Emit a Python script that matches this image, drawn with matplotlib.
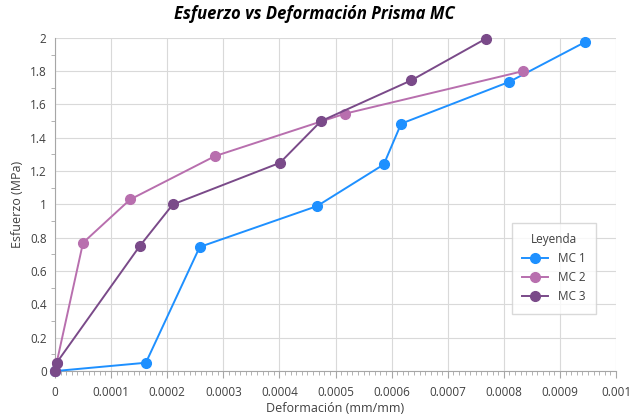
import numpy as np
import matplotlib.pyplot as plt
from matplotlib.ticker import MultipleLocator, FormatStrFormatter

# data
mc1_x = [0, 0.000162, 0.000258, 0.000467, 0.000586, 0.000617, 0.000809, 0.000945]
mc1_y = [0, 0.05, 0.745, 0.99, 1.24, 1.485, 1.735, 1.975]

mc2_x = [0, 0.000003, 0.00005, 0.000134, 0.000285, 0.000517, 0.000834]
mc2_y = [0, 0.05, 0.77, 1.03, 1.29, 1.545, 1.80]

mc3_x = [0, 0.000003, 0.000151, 0.00021, 0.000401, 0.000474, 0.000635, 0.000768]
mc3_y = [0, 0.05, 0.75, 1.0, 1.25, 1.5, 1.745, 1.995]

labels = ["MC 1", "MC 2", "MC 3"]
colors = ["#1E90FF", "#B86FAE", "#7A4A89"]

plt.rcParams['font.family'] = ['Open Sans', 'DejaVu Sans']

fig = plt.figure(figsize=(6.29, 4.16), dpi=100)
ax = fig.add_axes([0.0874, 0.108, 0.892, 0.801])

for xs, ys, lab, c in zip([mc1_x, mc2_x, mc3_x], [mc1_y, mc2_y, mc3_y], labels, colors):
    ax.plot(xs, ys, color=c, lw=1.4, marker='o', ms=7, label=lab, zorder=3, clip_on=False)

ax.set_xlim(0, 0.001)
ax.set_ylim(0, 2)
ax.xaxis.set_major_locator(MultipleLocator(0.0001))
ax.xaxis.set_minor_locator(MultipleLocator(0.00001))
ax.yaxis.set_major_locator(MultipleLocator(0.2))
ax.yaxis.set_minor_locator(MultipleLocator(0.1))
ax.yaxis.set_major_formatter(FormatStrFormatter('%g'))
ax.xaxis.set_major_formatter(plt.FuncFormatter(lambda v, p: '0' if v == 0 else ('%.4f' % v).rstrip('0')))

ax.grid(True, which='major', color='#D9D9D9', lw=0.8, zorder=0)
ax.set_axisbelow(True)
for s in ['top', 'right']:
    ax.spines[s].set_visible(False)
for s in ['left', 'bottom']:
    ax.spines[s].set_color('#A6A6A6')
ax.tick_params(which='major', length=0, labelsize=8.5, colors='#404040', pad=6)
ax.tick_params(which='minor', length=3, color='#A6A6A6')
ax.tick_params(axis='x', which='major', length=5, color='#A6A6A6')

ax.set_xlabel('Deformación (mm/mm)', fontsize=9, color='#404040', labelpad=2)
ax.set_ylabel('Esfuerzo (MPa)', fontsize=9, color='#404040', labelpad=4)
fig.suptitle('Esfuerzo vs Deformación Prisma MC', fontsize=12, fontweight='bold',
             fontstyle='italic', y=0.988)

leg = ax.legend(title='Leyenda', loc='lower right', bbox_to_anchor=(0.975, 0.155),
                fontsize=8.5, title_fontsize=8.5, frameon=True, fancybox=False,
                edgecolor='#D0D0D0', handlelength=2.2, borderpad=0.9)
for t in leg.get_texts():
    t.set_color('#404040')
leg.get_title().set_color('#404040')

fig.savefig('out.png', dpi=100)
